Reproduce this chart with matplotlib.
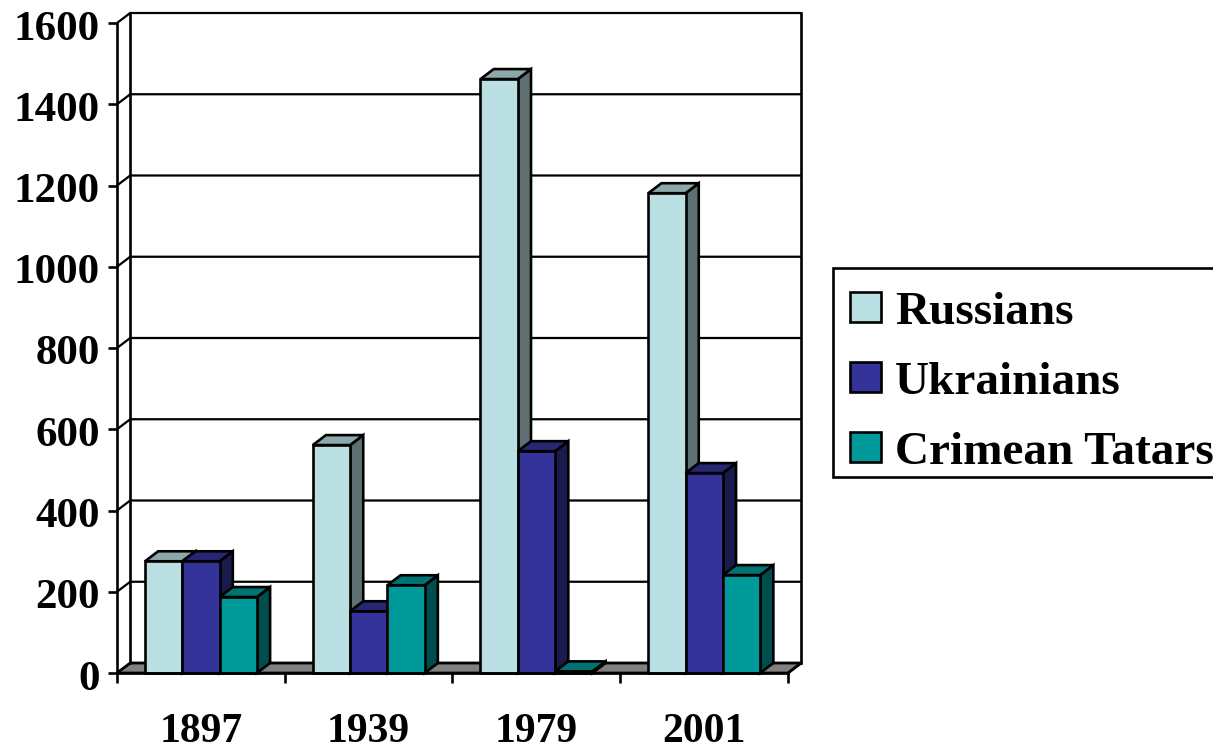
import matplotlib
matplotlib.use("Agg")
import matplotlib.pyplot as plt
from matplotlib.patches import Polygon, Rectangle
from matplotlib.transforms import ScaledTranslation

plt.rcParams['font.family'] = ['Liberation Serif', 'DejaVu Serif']
plt.rcParams['font.weight'] = 'bold'

# Population in thousands
years = ['1897', '1939', '1979', '2001']
russians = [275, 561, 1462, 1181]
ukrainians = [275, 152, 546, 492]
tatars = [187, 216, 4, 241]
y_ticks = [0, 200, 400, 600, 800, 1000, 1200, 1400, 1600]

series_names = ['Russians', 'Ukrainians', 'Crimean Tatars']
series_values = [russians, ukrainians, tatars]
front_colors = ['#BBE0E3', '#333399', '#009999']
top_colors = ['#8CA8AA', '#262673', '#007373']
side_colors = ['#5E7072', '#1A1A4D', '#004D4D']

W, H = 1213, 745
LW = 1.9

fig = plt.figure(figsize=(W / 100, H / 100), dpi=100)
# axes box is the front plane of the 3D chart
ax = fig.add_axes([117 / W, (H - 673) / H, 671 / W, 650 / H])
ax.set_xlim(0, 4)
ax.set_ylim(0, 1600)

# depth of the fake 3D projection, in data units
dx = 13.2 / 167.75
dy = 10 / 0.40625


def poly(pts, color, z):
    ax.add_patch(Polygon(pts, closed=True, facecolor=color, edgecolor='black',
                         linewidth=LW, joinstyle='miter', clip_on=False, zorder=z))


# floor
poly([(0, 0), (dx, dy), (4 + dx, dy), (4, 0)], '#808080', 1)

# back wall and gridlines
for t in y_ticks:
    ax.plot([0, dx, 4 + dx], [t, t + dy, t + dy], color='black', lw=LW * 0.85,
            clip_on=False, zorder=1.5, solid_capstyle='butt')
ax.plot([dx, dx], [dy, 1600 + dy], color='black', lw=LW, clip_on=False, zorder=1.5)
ax.plot([4 + dx, 4 + dx], [dy, 1600 + dy], color='black', lw=LW, clip_on=False, zorder=1.5)
ax.plot([4, 4 + dx], [0, dy], color='black', lw=LW, clip_on=False, zorder=1.5)

# bars: each group starts 28px into its category, bars are about 37.5px wide
group_start = 28 / 167.75
bar_w = 37.3 / 167.75
z = 2
for i in range(len(years)):
    for s, values in enumerate(series_values):
        x0 = i + group_start + s * bar_w
        x1 = x0 + bar_w
        v = values[i]
        poly([(x1, 0), (x1 + dx, dy), (x1 + dx, v + dy), (x1, v)], side_colors[s], z)
        poly([(x0, v), (x0 + dx, v + dy), (x1 + dx, v + dy), (x1, v)], top_colors[s], z + 0.1)
        poly([(x0, 0), (x1, 0), (x1, v), (x0, v)], front_colors[s], z + 0.2)
        z += 1

for side in ['top', 'right']:
    ax.spines[side].set_visible(False)
for side in ['left', 'bottom']:
    ax.spines[side].set_linewidth(LW)
    ax.spines[side].set_zorder(50)

ax.set_yticks(y_ticks)
ax.set_xticks(range(5))
ax.set_xticklabels([])
ax.tick_params(axis='y', length=6.5, width=LW, labelsize=31, pad=6)
ax.tick_params(axis='x', length=7, width=LW)
# nudge the y labels down a little
nudge = ScaledTranslation(0, -2 / 100, fig.dpi_scale_trans)
for lab in ax.get_yticklabels():
    lab.set_fontweight('bold')
    lab.set_transform(lab.get_transform() + nudge)

# year labels sit midway between the category ticks
for i, year in enumerate(years):
    ax.annotate(year, xy=(i + 0.5, 0), xytext=(0, -49.5), textcoords='offset points',
                ha='center', va='baseline', fontsize=30, fontweight='bold',
                annotation_clip=False)

# legend box runs off the right edge, so it is laid out by hand in pixels
fig_tf = fig.transFigure
fig.add_artist(Rectangle((833 / W, 1 - 477 / H), 400 / W, 209 / H, transform=fig_tf,
                         facecolor='white', edgecolor='black', linewidth=LW))
for s, name in enumerate(series_names):
    row = 70 * s
    fig.add_artist(Rectangle((849.5 / W, 1 - (322 + row) / H), 31 / W, 30 / H, transform=fig_tf,
                             facecolor=front_colors[s], edgecolor='black', linewidth=LW))
    fig.text(895 / W, 1 - (324 + row) / H, name, fontsize=34, fontweight='bold',
             ha='left', va='baseline')

fig.savefig('out.png', dpi=100)
